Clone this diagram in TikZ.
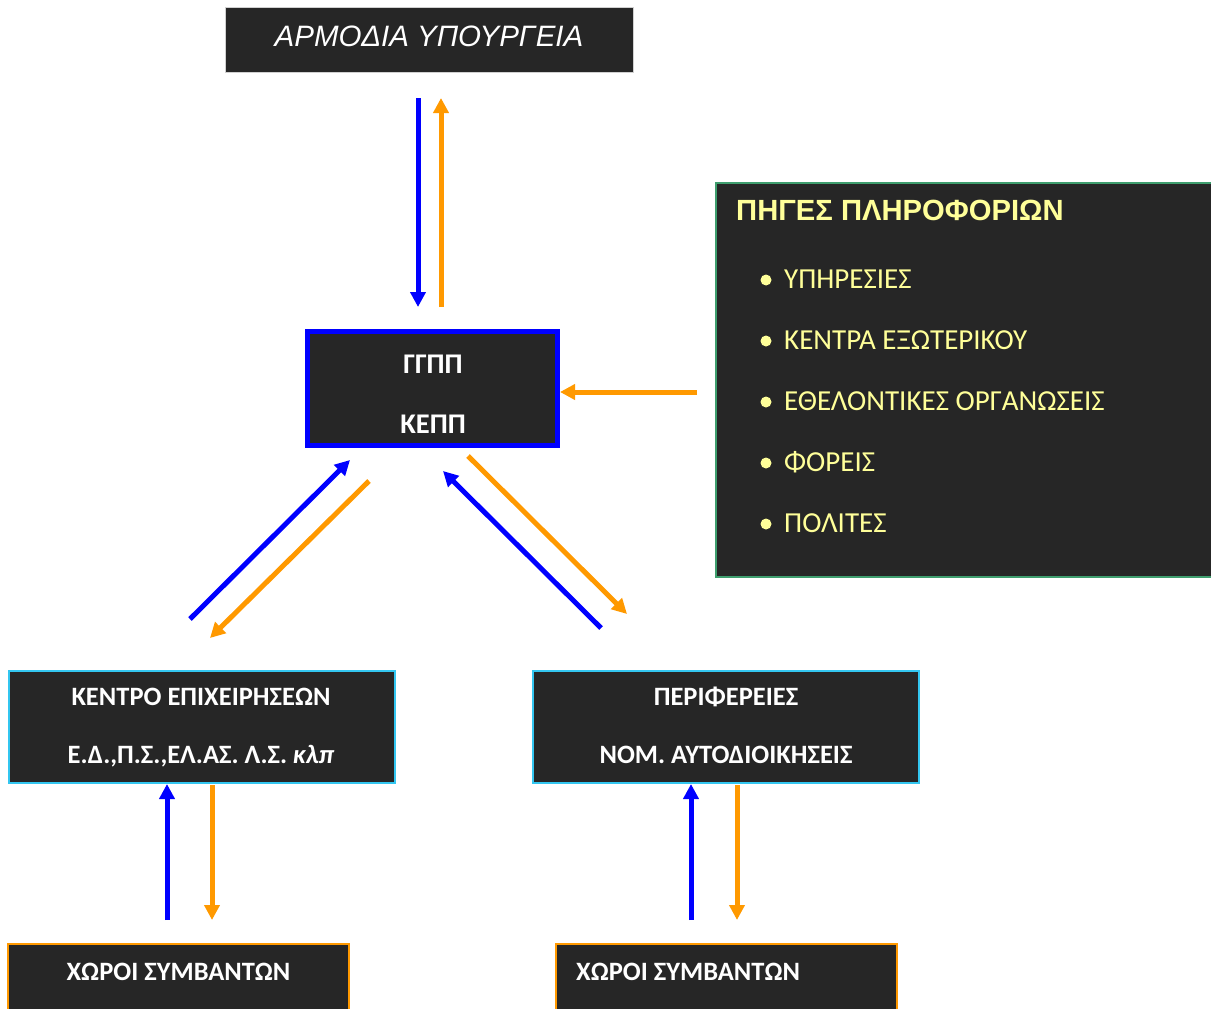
\documentclass[tikz,border=0pt]{standalone}
\usepackage{fontspec}
\setmainfont{Carlito}
\newfontfamily\arialf{Liberation Sans}
\usetikzlibrary{arrows.meta}
\definecolor{boxfill}{HTML}{262626}
\definecolor{arrblue}{HTML}{0000FF}
\definecolor{arrorange}{HTML}{FF9900}
\definecolor{panelgreen}{HTML}{3E9E6E}
\definecolor{boxcyan}{HTML}{33C6F0}
\definecolor{boxgray}{HTML}{D0D0D0}
\definecolor{txtyellow}{HTML}{FFFF99}
\tikzset{
  darkbox/.style={draw, fill=boxfill, inner sep=0pt, anchor=north west},
  btext/.style={text=white, inner sep=0pt, anchor=base, font=\bfseries\fontsize{#1}{#1}\selectfont},
  itemtext/.style={text=txtyellow, inner sep=0pt, anchor=base west, font=\fontsize{29}{29}\selectfont},
  bluearr/.style={draw=arrblue, line width=5pt, -{Triangle[length=15pt,width=15pt]}},
  orarr/.style={draw=arrorange, line width=5pt, -{Triangle[length=15pt,width=15pt]}},
}
\begin{document}
\begin{tikzpicture}[x=1pt,y=-1pt]
\useasboundingbox (0,0) rectangle (1211,1009);
\clip (0,0) rectangle (1211,1009);
% top box
\node[darkbox, draw=boxgray, line width=1pt, minimum width=408pt, minimum height=65pt] (minbox) at (225,7) {};
\node[text=white, inner sep=0pt, anchor=base, font=\arialf\itshape\fontsize{29.5}{29.5}\selectfont] (mintxt) at (429,46) {ΑΡΜΟΔΙΑ ΥΠΟΥΡΓΕΙΑ};
% center box
\node[darkbox, draw=arrblue, line width=5pt, minimum width=250pt, minimum height=114pt] (kepp) at (305,329) {};
\node[btext=28.5] (kepp1) at (433,373) {ΓΓΠΠ};
\node[btext=28.5] (kepp2) at (433,433) {ΚΕΠΠ};
% right panel
\node[darkbox, draw=panelgreen, line width=2pt, minimum width=520pt, minimum height=394pt] (panel) at (715,182) {};
\node[text=txtyellow, inner sep=0pt, anchor=base west, font=\arialf\bfseries\fontsize{29.2}{29.2}\selectfont] (phead) at (736,220) {ΠΗΓΕΣ ΠΛΗΡΟΦΟΡΙΩΝ};
\foreach \yy/\tt [count=\i] in {288/ΥΠΗΡΕΣΙΕΣ, 349/ΚΕΝΤΡΑ ΕΞΩΤΕΡΙΚΟΥ, 410/ΕΘΕΛΟΝΤΙΚΕΣ ΟΡΓΑΝΩΣΕΙΣ, 471/ΦΟΡΕΙΣ, 532/ΠΟΛΙΤΕΣ}{
  \node[itemtext] (item\i) at (784,\yy) {\tt};
  \fill[txtyellow] (766,\yy-8) circle (5.5pt);
}
% middle boxes
\node[darkbox, draw=boxcyan, line width=2pt, minimum width=386pt, minimum height=112pt] (kentro) at (8,670) {};
\node[btext=26.5] (kentro1) at (201,705) {ΚΕΝΤΡΟ ΕΠΙΧΕΙΡΗΣΕΩΝ};
\node[btext=26.5] (kentro2) at (201,763) {Ε.Δ.,Π.Σ.,ΕΛ.ΑΣ. Λ.Σ. \textit{κλπ}};
\node[darkbox, draw=boxcyan, line width=2pt, minimum width=386pt, minimum height=112pt] (perif) at (532,670) {};
\node[btext=26.5] (perif1) at (726,705) {ΠΕΡΙΦΕΡΕΙΕΣ};
\node[btext=26.5] (perif2) at (726,763) {ΝΟΜ. ΑΥΤΟΔΙΟΙΚΗΣΕΙΣ};
% bottom boxes
\node[darkbox, draw=arrorange, line width=2pt, minimum width=341pt, minimum height=90pt] (xor1) at (7,943) {};
\node[btext=26.5] (xor1t) at (178.5,980) {ΧΩΡΟΙ ΣΥΜΒΑΝΤΩΝ};
\node[darkbox, draw=arrorange, line width=2pt, minimum width=341pt, minimum height=90pt] (xor2) at (555,943) {};
\node[btext=26.5, anchor=base west] (xor2t) at (576,980) {ΧΩΡΟΙ ΣΥΜΒΑΝΤΩΝ};
% arrow end points
\coordinate (a1s) at (418,98);  \coordinate (a1e) at (418,307);
\coordinate (a2s) at (441,307); \coordinate (a2e) at (441,98);
\coordinate (a3s) at (697,392); \coordinate (a3e) at (560,392);
\coordinate (a4s) at (190,619); \coordinate (a4e) at (350,460);
\coordinate (a5s) at (369,481); \coordinate (a5e) at (210,638);
\coordinate (a6s) at (601,628); \coordinate (a6e) at (443,471);
\coordinate (a7s) at (468,456); \coordinate (a7e) at (627,614);
\coordinate (b1s) at (167,920); \coordinate (b1e) at (167,784);
\coordinate (b2s) at (212,785); \coordinate (b2e) at (212,920);
\coordinate (b3s) at (691,920); \coordinate (b3e) at (691,784);
\coordinate (b4s) at (737,785); \coordinate (b4e) at (737,920);
\draw[bluearr] (a1s) -- (a1e);
\draw[orarr] (a2s) -- (a2e);
\draw[orarr] (a3s) -- (a3e);
\draw[bluearr] (a4s) -- (a4e);
\draw[orarr] (a5s) -- (a5e);
\draw[bluearr] (a6s) -- (a6e);
\draw[orarr] (a7s) -- (a7e);
\draw[bluearr] (b1s) -- (b1e);
\draw[orarr] (b2s) -- (b2e);
\draw[bluearr] (b3s) -- (b3e);
\draw[orarr] (b4s) -- (b4e);
\end{tikzpicture}
\end{document}
